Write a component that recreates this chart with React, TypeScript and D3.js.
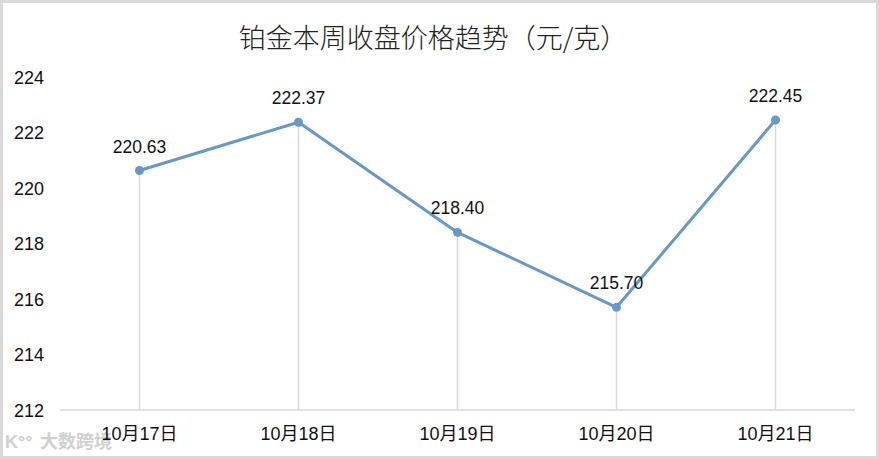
import React from "react";
import * as d3 from "d3";

const categories = ["10月17日", "10月18日", "10月19日", "10月20日", "10月21日"];
const prices = [220.63, 222.37, 218.4, 215.7, 222.45];
const yTicks = [212, 214, 216, 218, 220, 222, 224];
const title = "铂金本周收盘价格趋势（元/克）";

const W = 879;
const H = 459;
const FONT = "'Liberation Sans', Arial, 'Noto Sans CJK SC', sans-serif";

export default function App() {
  const x = d3.scaleBand<string>().domain(categories).range([60, 855]);
  const y = d3.scaleLinear().domain([212, 224]).range([410, 77]);
  const line = d3
    .line<number>()
    .x((_, i) => (x(categories[i]) as number) + x.bandwidth() / 2)
    .y((d) => y(d));
  const cx = (i: number) => (x(categories[i]) as number) + x.bandwidth() / 2;

  return (
    <svg
      width={W}
      height={H}
      style={{ position: "fixed", left: 0, top: 0, background: "#fff" }}
      fontFamily={FONT}
    >
      <rect x={1.5} y={1.5} width={W - 3} height={H - 3} fill="#fff" stroke="#d9d9d9" strokeWidth={3} />
      <text x={433} y={48} textAnchor="middle" fontSize={27} fill="#222" fontFamily="'Noto Sans CJK SC', sans-serif" fontWeight={300}>
        {title}
      </text>
      {yTicks.map((t) => (
        <text key={t} x={14} y={y(t) + 6.5} fontSize={18} fill="#111">
          {t}
        </text>
      ))}
      {prices.map((p, i) => (
        <line key={i} x1={cx(i)} x2={cx(i)} y1={y(p)} y2={410} stroke="#d9d9d9" strokeWidth={1.5} />
      ))}
      <line x1={60} x2={855} y1={410} y2={410} stroke="#d9d9d9" strokeWidth={1.5} />
      <text x={5} y={448} fontSize={18} fill="#d0d0d0" fontWeight={700}>
        K°°
      </text>
      <text x={40} y={448} fontSize={18} fill="#d0d0d0" fontFamily="'Noto Sans CJK SC', sans-serif" fontWeight={700}>
        大数跨境
      </text>
      {categories.map((c, i) => (
        <text key={c} x={cx(i)} y={440} textAnchor="middle" fontSize={18} fill="#111" fontFamily="'Liberation Sans', 'Noto Sans CJK SC', sans-serif">
          {c}
        </text>
      ))}
      <path d={line(prices) || ""} fill="none" stroke="#6798c6" strokeWidth={3} strokeLinejoin="round" />
      {prices.map((p, i) => (
        <circle key={i} cx={cx(i)} cy={y(p)} r={4.5} fill="#6798c6" />
      ))}
      {prices.map((p, i) => (
        <text key={i} x={cx(i)} y={y(p) - 18} textAnchor="middle" fontSize={17.5} fill="#111">
          {p.toFixed(2)}
        </text>
      ))}
    </svg>
  );
}
